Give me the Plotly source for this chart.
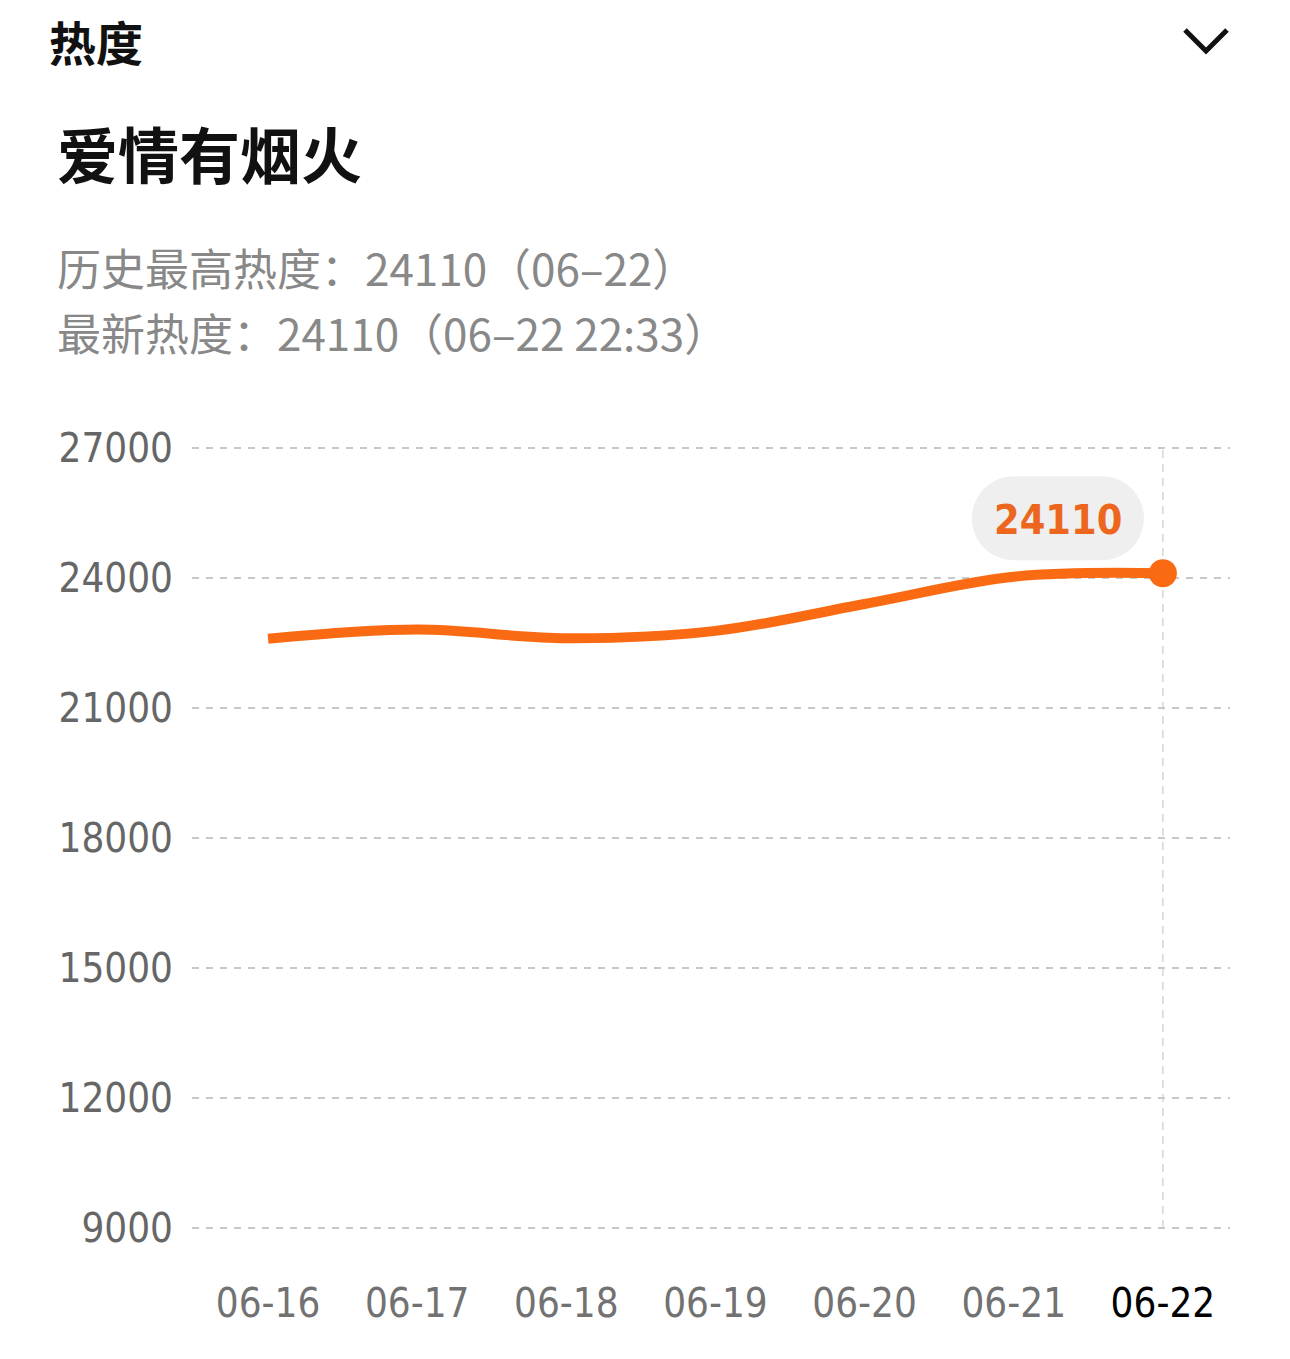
import plotly.graph_objects as go

# ---------------- data ----------------
dates = ["06-16", "06-17", "06-18", "06-19", "06-20", "06-21", "06-22"]
heat = [22600, 22810, 22610, 22780, 23400, 24030, 24110]
y_ticks = [9000, 12000, 15000, 18000, 21000, 24000, 27000]
header = "热度"
title = "爱情有烟火"
line1 = "历史最高热度：24110（06–22）"
line2 = "最新热度：24110（06–22 22:33）"

W, H = 1290, 1359
# pixel positions of the 9000 / 27000 gridlines and plot left/right
L, R, T, B = 192, 1230, 448, 1228
Y_LO, Y_HI = 9000, 27000
PAD = 300  # extra range so edge gridlines are drawn
ppu = (B - T) / (Y_HI - Y_LO)
T2 = T - PAD * ppu
B2 = B + PAD * ppu

ORANGE = "#FA6A12"
NUM_FONT = "DejaVu Sans Condensed, Roboto, sans-serif"
CJK_FONT = "Noto Sans CJK SC, sans-serif"


def px(x):
    return (x - L) / (R - L)


def py(y):
    return (B2 - y) / (B2 - T2)


fig = go.Figure()
fig.add_trace(go.Scatter(
    x=dates, y=heat, mode="lines",
    line=dict(color=ORANGE, width=10, shape="spline", smoothing=1.0),
    hoverinfo="skip", showlegend=False,
))
fig.add_trace(go.Scatter(
    x=[dates[-1]], y=[heat[-1]], mode="markers",
    marker=dict(color=ORANGE, size=28),
    hoverinfo="skip", showlegend=False,
))

ticktext = [d for d in dates[:-1]] + [f'<span style="color:#000000">{dates[-1]}</span>']

fig.update_xaxes(
    type="category", range=[-0.51, 6.45],
    tickmode="array", tickvals=dates, ticktext=ticktext,
    showgrid=False, zeroline=False, showline=False,
    tickfont=dict(family=NUM_FONT, size=40, color="#727272"),
    ticklabelstandoff=int(round(48 - PAD * ppu)), ticks="",
)
fig.update_yaxes(
    range=[Y_LO - PAD, Y_HI + PAD], tickmode="array", tickvals=y_ticks,
    ticktext=[str(v) for v in y_ticks],
    showgrid=True, gridcolor="#c8c8c8", griddash="7px,7px", gridwidth=2,
    zeroline=False, showline=False, ticks="",
    tickfont=dict(family=NUM_FONT, size=40, color="#666666"),
    ticklabelstandoff=18,
)

# vertical dashed guide at latest point
fig.add_shape(type="line", xref="x", yref="y", x0=dates[-1], x1=dates[-1],
              y0=Y_LO, y1=Y_HI, line=dict(color="#d6d6d6", width=1.5, dash="8px,6px"),
              layer="below")

# pill bubble behind the value label (pixel offsets from the last point)
Lb, Rb, Bb, Tb = -191, -19, 13, 97
r = (Tb - Bb) / 2
cy = (Tb + Bb) / 2
k = 0.5523 * r
path = (f"M {Lb + r},{Bb} L {Rb - r},{Bb} "
        f"C {Rb - r + k},{Bb} {Rb},{cy - k} {Rb},{cy} "
        f"C {Rb},{cy + k} {Rb - r + k},{Tb} {Rb - r},{Tb} "
        f"L {Lb + r},{Tb} "
        f"C {Lb + r - k},{Tb} {Lb},{cy + k} {Lb},{cy} "
        f"C {Lb},{cy - k} {Lb + r - k},{Bb} {Lb + r},{Bb} Z")
fig.add_shape(type="path", xref="x", yref="y", xsizemode="pixel", ysizemode="pixel",
              xanchor=dates[-1], yanchor=heat[-1], path=path,
              fillcolor="#efefef", line=dict(width=0), layer="below")
fig.add_annotation(x=dates[-1], y=heat[-1], xref="x", yref="y",
                   text=str(heat[-1]), showarrow=False,
                   xshift=(Lb + Rb) / 2, yshift=cy - 2,
                   font=dict(family=NUM_FONT, size=41, color="#EC661E", weight="bold"))

# header texts
fig.add_annotation(x=px(47), y=py(40), xref="paper", yref="paper", text=header,
                   showarrow=False, xanchor="left", yanchor="middle",
                   font=dict(family=CJK_FONT, size=47, color="#111111", weight="bold"))
fig.add_annotation(x=px(55), y=py(153), xref="paper", yref="paper", text=title,
                   showarrow=False, xanchor="left", yanchor="middle",
                   font=dict(family=CJK_FONT, size=61, color="#111111", weight="bold"))
fig.add_annotation(x=px(55), y=py(267), xref="paper", yref="paper", text=line1,
                   showarrow=False, xanchor="left", yanchor="middle",
                   font=dict(family=CJK_FONT, size=44, color="#888888"))
fig.add_annotation(x=px(55), y=py(332), xref="paper", yref="paper", text=line2,
                   showarrow=False, xanchor="left", yanchor="middle",
                   font=dict(family=CJK_FONT, size=44, color="#888888"))

# chevron icon
fig.add_shape(type="path", xref="paper", yref="paper",
              path=f"M {px(1185)},{py(30)} L {px(1206)},{py(51)} L {px(1227)},{py(30)}",
              line=dict(color="#111111", width=5))

fig.update_layout(
    width=W, height=H,
    margin=dict(l=L, r=W - R, t=T2, b=H - B2),
    paper_bgcolor="#ffffff", plot_bgcolor="#ffffff",
    showlegend=False,
)

fig.write_html("out.html")
